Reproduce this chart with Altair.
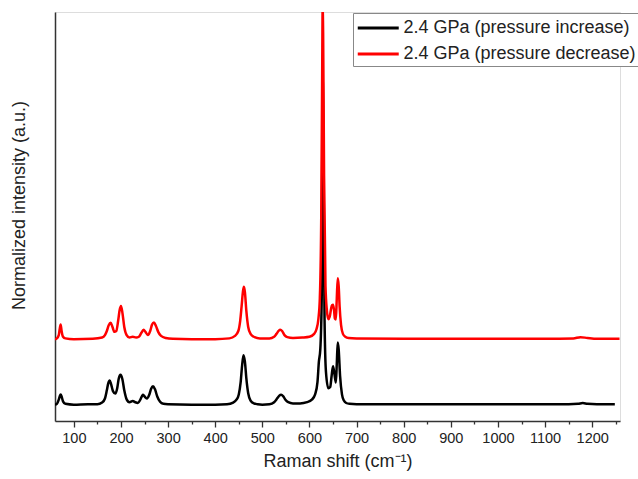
import altair as alt
import pandas as pd

# ---- data ----
inc_x = [60, 64, 68, 70, 72, 74, 77, 82, 100, 130, 150, 160, 166, 170, 173, 176, 179, 183, 188, 192,
         195, 199, 203, 207, 212, 218, 225, 230, 236, 241, 245, 247, 250, 255, 260, 264, 268, 272, 277,
         283, 290, 300, 350, 400, 425, 438, 445, 450, 454, 457, 460, 463, 466, 470, 475, 482, 490, 500,
         515, 525, 532, 536, 540, 544, 549, 555, 565, 580, 595, 605, 612, 617, 620, 623, 626, 628, 630,
         632, 635, 640, 644, 647, 650, 653, 656, 658, 660, 662, 665, 669, 673, 678, 685, 700, 800, 900,
         1000, 1100, 1150, 1170, 1180, 1190, 1210, 1248]
inc_y = [4.0, 4.2, 5.2, 6.0, 6.5, 6.0, 4.8, 4.2, 4.0, 4.1, 4.1, 4.5, 5.5, 7.5, 9.2, 9.9, 9.0, 7.3, 6.7, 8.0,
         10.2, 11.3, 10.2, 7.5, 5.3, 4.6, 4.9, 4.6, 4.4, 5.2, 6.2, 6.4, 6.0, 5.5, 6.4, 7.9, 8.5, 7.8, 6.0,
         4.7, 4.2, 4.1, 4.0, 4.0, 4.1, 4.5, 5.2, 6.5, 9.5, 13.5, 16.1, 14.5, 10.5, 6.8, 5.0, 4.3, 4.1, 4.0,
         4.1, 4.6, 5.6, 6.2, 6.4, 6.1, 5.2, 4.6, 4.3, 4.3, 4.6, 5.2, 6.5, 9.5, 14.5, 17.5, 30.0, 84.0, 60.0,
         25.0, 12.0, 8.0, 8.3, 11.0, 13.4, 11.5, 9.4, 14.0, 19.2, 17.5, 11.0, 6.5, 5.0, 4.4, 4.2, 4.1, 4.1, 4.1,
         4.1, 4.1, 4.1, 4.2, 4.4, 4.2, 4.1, 4.1]

dec_x = [60, 64, 68, 70, 72, 74, 77, 82, 100, 140, 160, 166, 170, 174, 178, 182, 186, 190, 194, 197,
         200, 203, 207, 212, 218, 225, 232, 238, 243, 248, 252, 257, 262, 266, 270, 274, 279, 285, 295,
         310, 350, 400, 430, 442, 449, 453, 456, 459, 461, 463, 466, 470, 475, 482, 495, 515, 525, 530,
         535, 538, 542, 547, 553, 565, 585, 600, 610, 615, 619, 622, 625, 627, 628, 629, 631, 634, 637,
         640, 643, 646, 648, 650, 652, 654, 656, 658, 660, 662, 664, 667, 671, 676, 683, 700, 800, 900,
         1000, 1100, 1160, 1175, 1190, 1210, 1258]
dec_y = [20.0, 20.2, 21.0, 22.5, 23.6, 22.0, 20.6, 20.2, 20.0, 20.1, 20.4, 21.0, 22.0, 23.4, 24.0, 23.0,
         21.8, 22.0, 24.5, 27.0, 28.1, 26.5, 23.0, 21.0, 20.4, 20.6, 20.4, 20.6, 21.5, 22.3, 21.8, 21.0,
         22.0, 23.6, 24.1, 23.3, 21.8, 20.8, 20.3, 20.1, 20.0, 20.0, 20.2, 20.8, 22.0, 24.5, 28.0, 31.8,
         32.8, 31.5, 27.0, 23.0, 21.3, 20.6, 20.2, 20.2, 20.6, 21.3, 22.1, 22.3, 22.0, 21.0, 20.5, 20.3,
         20.4, 20.6, 21.3, 22.5, 25.0, 30.0, 50.0, 85.0, 101.0, 95.0, 60.0, 33.0, 27.0, 24.9, 25.5, 27.5,
         28.3, 28.4, 27.3, 25.0, 24.8, 30.0, 34.9, 33.0, 28.0, 23.5, 21.3, 20.6, 20.3, 20.2, 20.1, 20.1,
         20.1, 20.1, 20.2, 20.5, 20.3, 20.1, 20.1]

series_names = ["2.4 GPa (pressure increase)", "2.4 GPa (pressure decrease)"]
series_colors = ["#000000", "#ff0000"]
major_ticks = [100, 200, 300, 400, 500, 600, 700, 800, 900, 1000, 1100, 1200]
minor_ticks = [150, 250, 350, 450, 550, 650, 750, 850, 950, 1050, 1150, 1250]

df_inc = pd.DataFrame({"x": inc_x, "y": inc_y, "series": series_names[0]})
df_dec = pd.DataFrame({"x": dec_x, "y": dec_y, "series": series_names[1]})

FONT = "Liberation Sans"

x_enc = alt.X(
    "x:Q",
    scale=alt.Scale(domain=[60, 1259], nice=False, zero=False),
    axis=alt.Axis(
        title="Raman shift (cm⁻¹)",
        values=sorted(major_ticks + minor_ticks),
        format="d",
        labelExpr="datum.value % 100 === 0 ? datum.label : ''",
        tickSize={"condition": {"test": "datum.value % 100 === 0", "value": 6}, "value": 3},
        labelOverlap=False,
        grid=False,
        labelFontSize=14.5,
        labelPadding=4,
        titleFontSize=18,
        titleFontWeight="normal",
        titlePadding=8,
        domainColor="#333333",
        domainWidth=1.5,
        tickColor="#333333",
        tickWidth=1.3,
        labelColor="#222222",
        titleColor="#222222",
    ),
)
y_enc = alt.Y(
    "y:Q",
    scale=alt.Scale(domain=[0, 100], nice=False, zero=False),
    axis=alt.Axis(
        title="Normalized intensity (a.u.)",
        labels=False,
        ticks=False,
        grid=False,
        titleFontSize=18,
        titleFontWeight="normal",
        titlePadding=27,
        titleY=193,
        domainColor="#333333",
        domainWidth=1.5,
        titleColor="#222222",
    ),
)
color_enc = alt.Color(
    "series:N",
    scale=alt.Scale(domain=series_names, range=series_colors),
    legend=alt.Legend(
        title=None,
        orient="none",
        legendX=298,
        legendY=1,
        symbolType="M-1,0L3,0",
        symbolSize=420,
        symbolStrokeWidth=2.8,
        labelFontSize=18,
        labelOffset=23.5,
        labelLimit=0,
        rowPadding=5,
        padding=3,
        strokeColor="#888888",
        fillColor="white",
        labelColor="#222222",
    ),
)

line_inc = alt.Chart(df_inc).mark_line(strokeWidth=2.5, interpolate="monotone", clip=True).encode(
    x=x_enc, y=y_enc, color=color_enc, order="x:Q"
)
line_dec = alt.Chart(df_dec).mark_line(strokeWidth=2.5, interpolate="monotone", clip=True).encode(
    x=x_enc, y=y_enc, color=color_enc, order="x:Q"
)

chart = (
    alt.layer(line_inc, line_dec)
    .properties(
        width=565,
        height=409,
        autosize=alt.AutoSizeParams(type="none"),
        padding={"left": 55, "top": 12, "right": 18, "bottom": 58},
        background="white",
    )
    .configure_view(stroke=None)
    .configure(font=FONT)
)

chart.save("out.html", embed_options={"renderer": "svg", "actions": False})
